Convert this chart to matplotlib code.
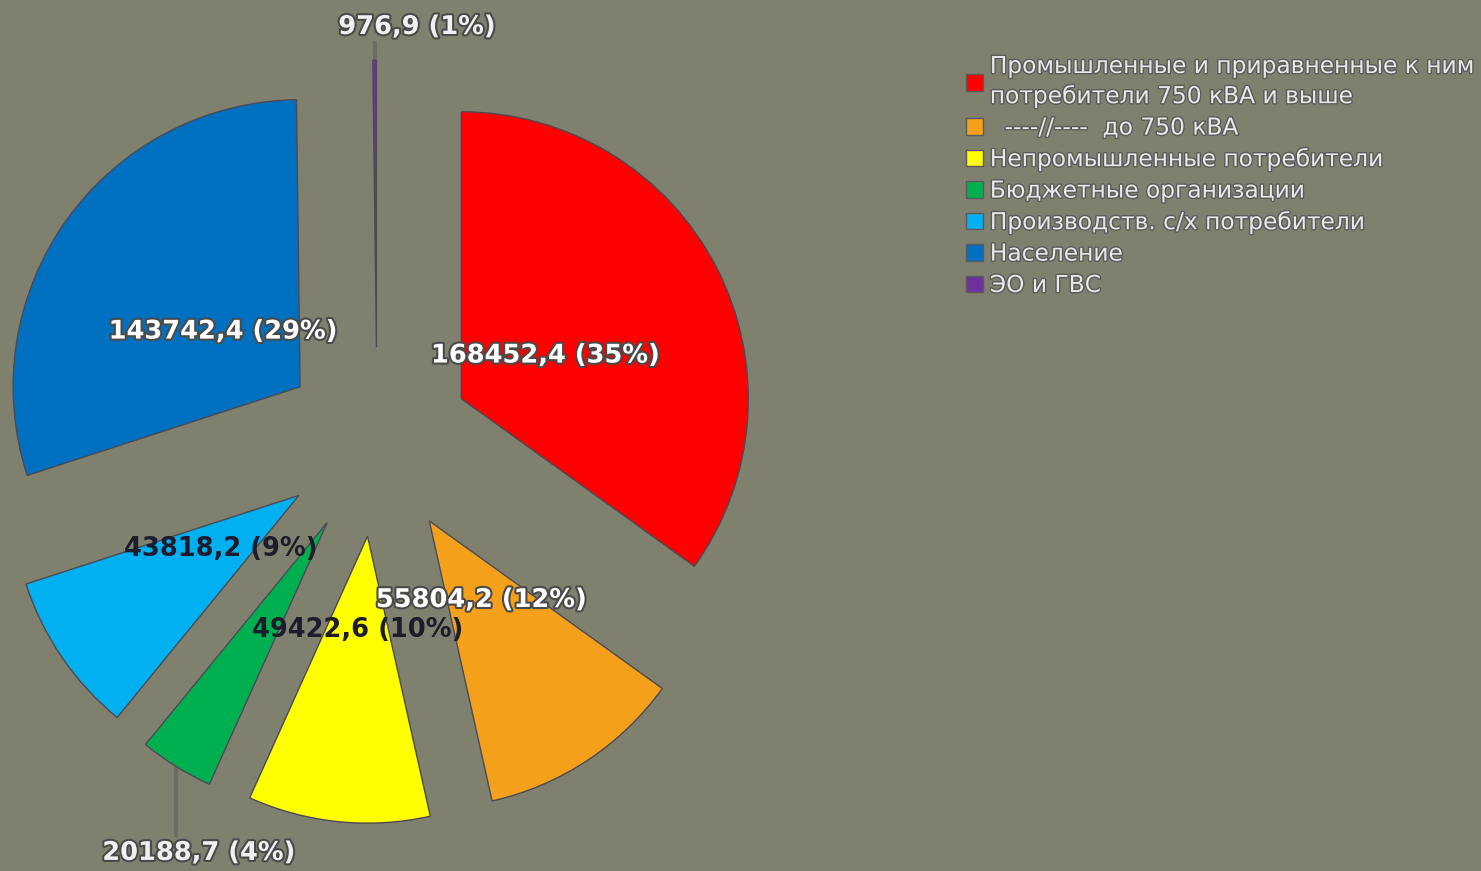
import numpy as np
import matplotlib
matplotlib.use('Agg')
import matplotlib.pyplot as plt
import matplotlib.patheffects as pe
from matplotlib.patches import Patch

# data
categories = ['Промышленные и приравненные к ним\nпотребители 750 кВА и выше',
              '  ----//----  до 750 кВА',
              'Непромышленные потребители',
              'Бюджетные организации',
              'Производств. с/х потребители',
              'Население',
              'ЭО и ГВС']
values = [168452.4, 55804.2, 49422.6, 20188.7, 43818.2, 143742.4, 976.9]
shares = [35, 12, 10, 4, 9, 29, 1]

colors = ['#FF0000', '#F5A01A', '#FFFF00', '#00B050', '#00B0F0', '#0070C0',
          '#7030A0']
txt_col = ['white', 'white', '#1c1c2c', None, '#1c1c2c', 'white', None]
BG = '#80806f'
plt.rcParams['font.family'] = ['DejaVu Sans']

fig = plt.figure(figsize=(14.81, 8.71), dpi=100)
fig.patch.set_facecolor(BG)
ax = fig.add_axes([0, 0, 1, 1])
ax.set_facecolor(BG)

wedges, _ = ax.pie(values, colors=colors, startangle=90, counterclock=False,
                   explode=[0.33] * len(values), radius=1,
                   wedgeprops=dict(edgecolor='#4a4a55', linewidth=1.0))
ax.set_xlim(-1.314, 3.847)
ax.set_ylim(-1.495, 1.540)
ax.set_aspect('auto')
ax.axis('off')

glow = [pe.withStroke(linewidth=3, foreground='#4a4a4a')]
for i, w in enumerate(wedges):
    t = np.deg2rad((w.theta1 + w.theta2) / 2)
    cx, cy = w.center
    s = f'{values[i]:.1f}'.replace('.', ',') + f' ({shares[i]}%)'
    if txt_col[i] is not None:
        ax.text(cx + 0.33 * np.cos(t), cy + 0.33 * np.sin(t), s,
                ha='center', va='center', fontsize=18.5, fontweight='bold',
                color=txt_col[i],
                path_effects=glow if txt_col[i] == 'white' else None)
    else:
        ox, oy = cx + np.cos(t), cy + np.sin(t)
        if oy < 0:
            ax.plot([ox, ox], [oy, -1.37], color='#6c6c62', lw=3, zorder=0)
            ax.text(ox + 0.08, -1.432, s, ha='center', va='center',
                    fontsize=18.5, fontweight='bold', color='#f0f0f0',
                    path_effects=glow)
        else:
            ax.plot([ox, ox], [oy, 1.39], color='#6c6c62', lw=3, zorder=0)
            ax.text(ox + 0.148, 1.446, s, ha='center', va='center',
                    fontsize=18.5, fontweight='bold', color='#f0f0f0',
                    path_effects=glow)

handles = [Patch(facecolor=c, edgecolor='#5a5a5a') for c in colors]
leg = fig.legend(handles, categories, loc='upper left',
                 bbox_to_anchor=(966 / 1481, 1 - 55 / 871), frameon=False,
                 fontsize=16.8, handlelength=0.72, handleheight=0.72,
                 handletextpad=0.3, labelspacing=0.36, borderpad=0,
                 borderaxespad=0)
for t in leg.get_texts():
    t.set_color('#e8e8e8')
    t.set_linespacing(1.38)
    t.set_path_effects([pe.withStroke(linewidth=2, foreground='#5a5a5a')])

plt.savefig('out.png', dpi=100, facecolor=BG)
